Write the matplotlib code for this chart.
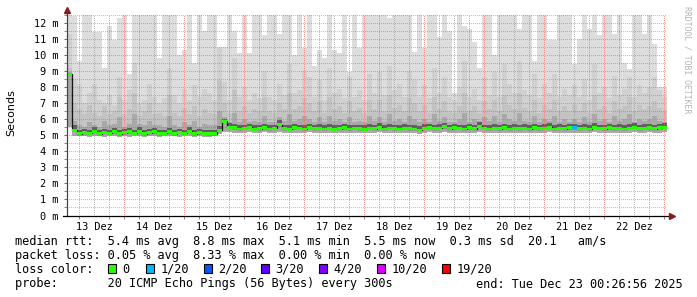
import numpy as np
import pandas as pd
import matplotlib
matplotlib.use("Agg")
import matplotlib.pyplot as plt
import matplotlib.dates as mdates
from matplotlib.lines import Line2D
from matplotlib.patches import Rectangle
from matplotlib.ticker import FixedLocator

# ---------------- data (milliseconds), one value per 2-hour column ----------------
start = "2025-12-13 01:12"
n_cols = 120

smoke_max = [
    12.5, 12.4, 9.6, 12.5, 12.5, 11.4, 11.4, 9.2, 11.8, 10.9,
    12.3, 12.5, 8.8, 12.5, 12.5, 12.5, 12.5, 12.5, 9.8, 12.5,
    12.5, 12.5, 10.0, 10.3, 12.5, 9.5, 12.5, 11.5, 12.5, 12.5,
    10.5, 10.5, 12.5, 11.5, 10.1, 12.5, 10.1, 12.5, 12.5, 11.2,
    12.5, 12.5, 11.3, 12.5, 12.5, 10.0, 12.5, 10.4, 12.5, 9.3,
    10.3, 9.8, 12.5, 10.3, 10.1, 12.5, 8.9, 12.5, 10.4, 12.5,
    12.5, 12.5, 12.5, 12.5, 12.3, 12.5, 12.5, 12.5, 12.5, 10.2,
    12.5, 10.4, 12.5, 12.5, 11.1, 12.5, 11.5, 7.6, 12.5, 11.8,
    11.6, 10.8, 9.2, 12.5, 12.5, 10.0, 12.5, 12.5, 12.5, 12.5,
    11.6, 12.5, 12.5, 9.6, 12.5, 12.5, 10.9, 10.9, 12.5, 12.5,
    12.5, 9.4, 11.0, 12.5, 11.6, 12.5, 11.2, 12.5, 12.5, 11.3,
    12.5, 9.5, 9.1, 12.5, 12.5, 11.3, 12.5, 10.7, 8.0, 8.0,
]

smoke_p90 = [
    11.3, 8.5, 8.2, 7.0, 7.6, 8.2, 7.2, 7.0, 7.5, 6.9,
    8.6, 7.2, 7.8, 9.5, 7.0, 7.2, 8.2, 7.4, 7.0, 7.3,
    9.2, 7.5, 7.0, 7.9, 7.2, 8.1, 7.4, 7.9, 7.6, 7.2,
    10.4, 8.3, 7.2, 9.8, 7.4, 8.0, 7.2, 7.6, 7.3, 9.0,
    7.4, 7.2, 8.2, 7.5, 9.4, 7.6, 7.8, 9.0, 8.6, 7.4,
    8.4, 7.2, 9.2, 7.6, 7.9, 7.3, 8.6, 7.4, 7.8, 7.2,
    8.8, 7.6, 8.9, 7.5, 9.3, 7.8, 8.2, 7.4, 9.0, 8.4,
    7.4, 8.1, 7.3, 9.2, 7.6, 8.6, 7.4, 7.2, 8.0, 9.6,
    7.4, 7.9, 7.2, 8.6, 7.5, 8.9, 7.4, 9.4, 8.2, 7.6,
    9.6, 7.8, 7.5, 8.8, 7.3, 8.2, 7.6, 8.8, 7.4, 7.9,
    7.5, 8.1, 7.4, 8.5, 7.2, 9.4, 7.6, 8.0, 7.3, 8.7,
    7.5, 7.9, 8.6, 7.4, 8.1, 7.6, 8.0, 8.6, 7.8, 7.4,
]

smoke_p75 = [
    9.2, 7.0, 6.6, 6.3, 6.9, 6.4, 6.2, 6.8, 6.3, 6.5,
    7.4, 6.3, 6.6, 7.6, 6.2, 6.5, 7.0, 6.3, 6.4, 6.2,
    7.5, 6.4, 6.2, 6.7, 6.3, 6.8, 6.2, 6.6, 6.4, 6.3,
    8.4, 7.0, 6.4, 7.8, 6.5, 6.8, 6.4, 6.6, 6.5, 7.4,
    6.5, 6.4, 7.0, 6.6, 7.6, 6.6, 6.8, 7.3, 7.0, 6.5,
    7.1, 6.4, 7.4, 6.6, 6.8, 6.4, 7.1, 6.5, 6.7, 6.4,
    7.2, 6.6, 7.2, 6.5, 7.5, 6.7, 6.9, 6.5, 7.3, 7.0,
    6.5, 6.9, 6.4, 7.4, 6.6, 7.1, 6.5, 6.4, 6.8, 7.6,
    6.5, 6.8, 6.4, 7.1, 6.6, 7.2, 6.5, 7.5, 6.9, 6.6,
    7.6, 6.7, 6.5, 7.2, 6.4, 6.9, 6.6, 7.2, 6.5, 6.8,
    6.5, 6.9, 6.5, 7.0, 6.4, 7.5, 6.6, 6.8, 6.4, 7.1,
    6.6, 6.8, 7.4, 6.5, 6.9, 6.6, 6.8, 7.1, 6.7, 6.5,
]

smoke_p60 = [
    8.9, 5.9, 5.6, 5.5, 5.8, 5.6, 5.5, 5.9, 5.6, 5.7,
    6.1, 5.5, 5.7, 6.3, 5.7, 5.6, 5.9, 5.6, 5.6, 5.5,
    6.2, 5.6, 5.5, 5.8, 5.6, 5.9, 5.5, 5.7, 5.6, 5.6,
    6.5, 6.1, 5.8, 6.4, 5.8, 6.0, 5.8, 5.9, 5.8, 6.2,
    5.8, 5.8, 6.1, 5.9, 6.3, 5.9, 6.0, 6.2, 6.0, 5.8,
    6.1, 5.8, 6.2, 5.9, 6.0, 5.8, 6.1, 5.8, 5.9, 5.8,
    6.2, 5.9, 6.1, 5.8, 6.3, 5.9, 6.0, 5.8, 6.2, 6.0,
    5.8, 6.0, 5.8, 6.3, 5.9, 6.1, 5.8, 5.8, 6.0, 6.4,
    5.8, 6.0, 5.9, 6.1, 5.9, 6.2, 5.8, 6.3, 6.0, 5.9,
    6.4, 5.9, 5.8, 6.2, 5.8, 6.0, 5.9, 6.2, 5.8, 6.0,
    5.8, 6.0, 5.8, 6.1, 5.8, 6.3, 5.9, 6.0, 5.8, 6.2,
    5.9, 6.0, 6.3, 5.8, 6.0, 5.9, 6.0, 6.2, 5.9, 5.8,
]

smoke_p55 = [
    8.80, 5.60, 5.30, 5.40, 5.30, 5.50, 5.30, 5.40, 5.35, 5.45,
    5.30, 5.40, 5.45, 5.30, 5.50, 5.30, 5.40, 5.45, 5.30, 5.35,
    5.45, 5.30, 5.40, 5.35, 5.50, 5.30, 5.40, 5.35, 5.30, 5.30,
    5.55, 6.00, 5.75, 5.70, 5.60, 5.65, 5.70, 5.60, 5.65, 5.70,
    5.60, 5.65, 5.95, 5.65, 5.60, 5.70, 5.65, 5.62, 5.72, 5.62,
    5.70, 5.60, 5.68, 5.60, 5.65, 5.70, 5.62, 5.66, 5.62, 5.60,
    5.70, 5.64, 5.75, 5.62, 5.68, 5.64, 5.60, 5.70, 5.66, 5.60,
    5.58, 5.68, 5.72, 5.66, 5.70, 5.76, 5.64, 5.70, 5.66, 5.64,
    5.72, 5.64, 5.80, 5.66, 5.62, 5.70, 5.64, 5.72, 5.62, 5.68,
    5.66, 5.70, 5.62, 5.72, 5.64, 5.68, 5.74, 5.62, 5.70, 5.64,
    5.72, 5.70, 5.64, 5.70, 5.62, 5.76, 5.66, 5.64, 5.72, 5.64,
    5.70, 5.62, 5.68, 5.74, 5.64, 5.70, 5.72, 5.64, 5.70, 5.76,
]

median_rtt = [
    8.80, 5.30, 5.10, 5.15, 5.12, 5.25, 5.10, 5.18, 5.12, 5.22,
    5.10, 5.15, 5.20, 5.12, 5.25, 5.10, 5.15, 5.22, 5.10, 5.12,
    5.20, 5.10, 5.18, 5.12, 5.25, 5.10, 5.15, 5.12, 5.10, 5.08,
    5.30, 5.85, 5.50, 5.45, 5.38, 5.42, 5.48, 5.36, 5.40, 5.45,
    5.38, 5.42, 5.65, 5.40, 5.36, 5.45, 5.42, 5.38, 5.48, 5.40,
    5.44, 5.38, 5.42, 5.36, 5.40, 5.46, 5.38, 5.42, 5.40, 5.36,
    5.44, 5.40, 5.50, 5.38, 5.42, 5.40, 5.36, 5.44, 5.40, 5.38,
    5.30, 5.42, 5.48, 5.40, 5.44, 5.52, 5.40, 5.45, 5.42, 5.38,
    5.46, 5.40, 5.55, 5.42, 5.38, 5.44, 5.40, 5.46, 5.38, 5.42,
    5.40, 5.44, 5.38, 5.46, 5.40, 5.42, 5.48, 5.38, 5.44, 5.40,
    5.46, 5.45, 5.40, 5.44, 5.38, 5.50, 5.42, 5.40, 5.46, 5.40,
    5.44, 5.38, 5.42, 5.48, 5.40, 5.44, 5.46, 5.40, 5.45, 5.50,
]

smoke_min = [
    5.50, 4.95, 4.92, 4.95, 4.90, 4.93, 4.95, 4.90, 4.92, 4.95,
    4.90, 4.93, 4.88, 4.92, 4.95, 4.90, 4.92, 4.95, 4.90, 4.93,
    4.92, 4.95, 4.90, 4.92, 4.95, 4.90, 4.92, 4.88, 4.90, 4.92,
    5.05, 5.20, 5.18, 5.15, 5.14, 5.16, 5.18, 5.12, 5.15, 5.17,
    5.13, 5.15, 5.20, 5.15, 5.12, 5.16, 5.15, 5.13, 5.17, 5.14,
    5.16, 5.12, 5.15, 5.12, 5.14, 5.16, 5.13, 5.15, 5.14, 5.12,
    5.16, 5.14, 5.18, 5.13, 5.15, 5.14, 5.12, 5.16, 5.14, 5.12,
    5.08, 5.14, 5.17, 5.14, 5.16, 5.18, 5.14, 5.16, 5.15, 5.13,
    5.16, 5.14, 5.20, 5.15, 5.13, 5.16, 5.14, 5.16, 5.13, 5.15,
    5.14, 5.16, 5.13, 5.16, 5.14, 5.15, 5.17, 5.13, 5.16, 5.14,
    5.16, 5.15, 5.14, 5.16, 5.13, 5.18, 5.15, 5.14, 5.16, 5.14,
    5.16, 5.13, 5.15, 5.17, 5.14, 5.16, 5.17, 5.14, 5.16, 5.18,
]

# lost pings (out of 20) per column
loss_count = [0] * n_cols
loss_count[101] = 1

y_ticks = list(range(0, 13))
y_tick_labels = [f"{v} m" for v in y_ticks]
day_labels = ["13 Dez", "14 Dez", "15 Dez", "16 Dez", "17 Dez",
              "18 Dez", "19 Dez", "20 Dez", "21 Dez", "22 Dez"]

loss_levels = ["0", "1/20", "2/20", "3/20", "4/20", "10/20", "19/20"]
loss_colors = ["#26ff00", "#00b8ff", "#0059ff", "#5e00ff", "#7e00ff", "#dd00ff", "#ff0000"]
loss_color_for_count = {0: "#26ff00", 1: "#00b8ff", 2: "#0059ff", 3: "#5e00ff",
                        4: "#7e00ff", 10: "#dd00ff", 19: "#ff0000"}

stats_line1 = "median rtt:  5.4 ms avg  8.8 ms max  5.1 ms min  5.5 ms now  0.3 ms sd  20.1   am/s"
stats_line2 = "packet loss: 0.05 % avg  8.33 % max  0.00 % min  0.00 % now"
probe_line = "probe:       20 ICMP Echo Pings (56 Bytes) every 300s"
end_line = "end: Tue Dec 23 00:26:56 2025"

# ---------------- figure ----------------
W, H = 697, 297
MONO = "DejaVu Sans Mono"
fig = plt.figure(figsize=(W / 100, H / 100), dpi=100)
fig.patch.set_facecolor("white")


def fx(px):
    return px / W


def fy(py):
    return (H - py) / H


ax = fig.add_axes([fx(67), fy(215.5), 600 / W, 200.9 / H])
ax.set_facecolor("white")

edges = pd.date_range(start, periods=n_cols + 1, freq="2h")
x = mdates.date2num(edges)
col_left = x[:-1]
col_w = x[1] - x[0]


def stepv(v):
    v = np.asarray(v, dtype=float)
    return np.append(v, v[-1])


lo = stepv(smoke_min)
ax.fill_between(x, lo, stepv(smoke_max), step="post", color="#dddddd", lw=0, zorder=1)
ax.fill_between(x, lo, stepv(smoke_p90), step="post", color="#d0d0d0", lw=0, zorder=1.05)
ax.fill_between(x, lo, stepv(smoke_p75), step="post", color="#c3c3c3", lw=0, zorder=1.1)
ax.fill_between(x, lo, stepv(smoke_p60), step="post", color="#a9a9a9", lw=0, zorder=1.15)
ax.fill_between(x, stepv(median_rtt), stepv(smoke_p55), step="post", color="#606060", lw=0, zorder=1.2)

x0 = mdates.date2num(pd.Timestamp("2025-12-13 01:12"))
x1 = mdates.date2num(pd.Timestamp("2025-12-23 01:12"))
ax.set_xlim(x0, x1)
ax.set_ylim(0, 12.5)

# grid (drawn over the smoke like rrdtool)
red = (1.0, 0.37, 0.37, 0.6)
gray = (0.45, 0.45, 0.45, 0.45)
dots = (0, (1, 2))
for m in np.arange(0.5, 12.6, 0.5):
    col = red if abs(m - round(m)) < 1e-9 else gray
    ax.axhline(m, color=col, lw=0.72, ls=dots, zorder=1.5, antialiased=False)
for t in pd.date_range("2025-12-13 06:00", "2025-12-23 00:00", freq="6h"):
    tv = mdates.date2num(t)
    col = red if t.hour == 0 else gray
    ax.axvline(tv, color=col, lw=0.72, ls=dots, zorder=1.5, antialiased=False)

# median line and loss-coloured band
ax.step(x, stepv(median_rtt), where="post", color="#151515", lw=0.9, zorder=3)
band_colors = [loss_color_for_count[c] for c in loss_count]
ax.bar(col_left, 0.18, bottom=np.asarray(median_rtt) - 0.09, width=col_w,
       align="edge", color=band_colors, lw=0, zorder=4)

# axes styling
for s in ax.spines.values():
    s.set_visible(False)
ax.yaxis.set_major_locator(FixedLocator(y_ticks))
ax.set_yticklabels(y_tick_labels, fontfamily=MONO, fontsize=7.4)
ax.yaxis.set_minor_locator(FixedLocator(np.arange(0.5, 12.6, 1.0)))
ax.tick_params(axis="y", which="major", length=2.5, width=0.7, color="#666666", pad=3.5)
ax.tick_params(axis="y", which="minor", length=2, width=0.7, color="#888888")

noon = [mdates.date2num(t) for t in pd.date_range("2025-12-13 12:00", periods=10, freq="D")]
ax.xaxis.set_major_locator(FixedLocator(noon))
ax.set_xticklabels(day_labels, fontfamily=MONO, fontsize=7.4)
ax.xaxis.set_minor_locator(FixedLocator(
    [mdates.date2num(t) for t in pd.date_range("2025-12-13 06:00", "2025-12-23 00:00", freq="6h")]))
ax.tick_params(axis="x", which="major", length=0, pad=5)
ax.tick_params(axis="x", which="minor", length=2, width=0.7, color="#888888")

# axis lines with arrow heads
fig.add_artist(Line2D([fx(67), fx(67)], [fy(215.5), fy(11)], color="#444444", lw=0.9))
fig.add_artist(Line2D([fx(63), fx(671)], [fy(215.5), fy(215.5)], color="black", lw=0.9))
fig.add_artist(Line2D([fx(67)], [fy(9.5)], marker="^", ms=4.5, color="#8b1a1a", lw=0))
fig.add_artist(Line2D([fx(672)], [fy(215.5)], marker=">", ms=4.5, color="#8b1a1a", lw=0))

# labels
fig.text(fx(11), fy(113), "Seconds", rotation=90, fontsize=8, family="DejaVu Sans",
         ha="center", va="center")
fig.text(fx(687), fy(60), "RRDTOOL / TOBI OETIKER", rotation=270, fontsize=5.9,
         family=MONO, color="#b4b4b4", ha="center", va="center")

FS = 8.6
fig.text(fx(15), fy(245), stats_line1, family=MONO, fontsize=FS, va="baseline")
fig.text(fx(15), fy(259.5), stats_line2, family=MONO, fontsize=FS, va="baseline")
fig.text(fx(15), fy(273), "loss color:", family=MONO, fontsize=FS, va="baseline")
sq_x = [108, 146, 204, 261, 319, 377, 442]
for sx, lab, c in zip(sq_x, loss_levels, loss_colors):
    fig.add_artist(Rectangle((fx(sx), fy(273)), 8 / W, 9 / H, transform=fig.transFigure,
                             facecolor=c, edgecolor="black", lw=0.8))
    fig.text(fx(sx + 14.5), fy(273), lab, family=MONO, fontsize=FS, va="baseline")
fig.text(fx(15), fy(287.5), probe_line, family=MONO, fontsize=FS, va="baseline")
fig.text(fx(683), fy(287.5), end_line, family=MONO, fontsize=FS, va="baseline", ha="right")

fig.savefig("out.png", dpi=100, facecolor="white")
